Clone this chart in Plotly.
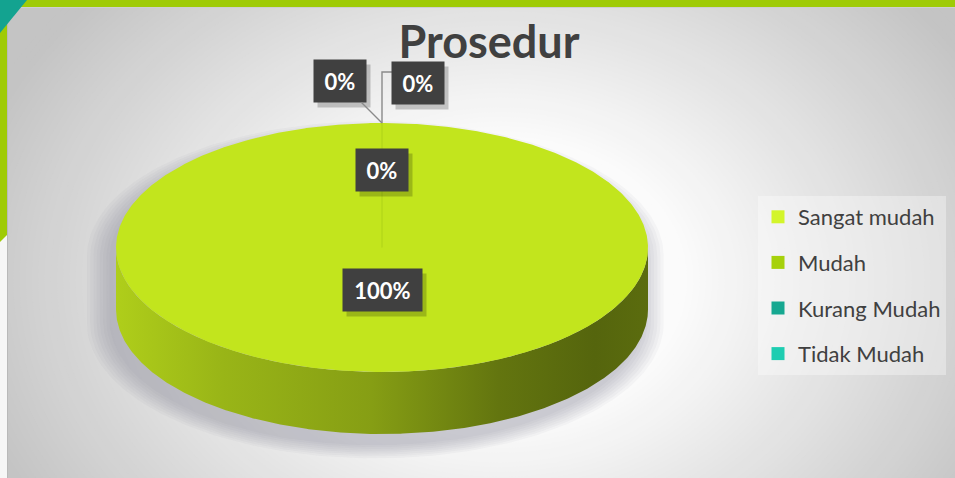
import numpy as np
import plotly.graph_objects as go

# ---------------- data ----------------
categories = ["Sangat mudah", "Mudah", "Kurang Mudah", "Tidak Mudah"]
values = [100, 0, 0, 0]
legend_colors = ["#d3f52a", "#a6d10b", "#16a891", "#1ecdb1"]
top_colors = ["#c2e51d", "#a3cf0f", "#149e88", "#1cc5aa"]
title_text = "Prosedur"

# ---------------- layout constants (pixels) ----------------
W, H = 955, 478
CX, CY, RX, RY = 382.0, 247.5, 266.0, 124.5   # pie top-face ellipse in px
DEPTH = 62.0 / RY                              # cylinder depth in data units
FONT = "Lato"

def px_to_paper(px, py):
    return px / W, 1 - py / H

def lighten(hexc, f):
    h = hexc.lstrip("#")
    r, g, b = (int(h[i:i + 2], 16) for i in (0, 2, 4))
    return "#%02x%02x%02x" % tuple(max(0, min(255, int(round(c * f)))) for c in (r, g, b))

fig = go.Figure()

# ---------------- slice geometry from values ----------------
total = float(sum(values))
fracs = [v / total for v in values]
cum = np.concatenate([[0.0], np.cumsum(fracs)])
start_deg = 90.0
angles = [(start_deg - 360 * cum[i], start_deg - 360 * cum[i + 1]) for i in range(len(values))]

# ---------------- shadow beneath the cylinder ----------------
t_up = np.linspace(0, np.pi, 120)
t_dn = np.linspace(np.pi, 2 * np.pi, 120)
sil_x = np.concatenate([np.cos(t_up), np.cos(t_dn)])
sil_y = np.concatenate([np.sin(t_up), np.sin(t_dn) - DEPTH])
for k in range(8):
    s = 1.0 + 0.012 * k
    fig.add_trace(go.Scatter(
        x=sil_x * s - 0.025, y=(sil_y + DEPTH / 2) * s - DEPTH / 2 - 0.09,
        mode="lines", fill="toself", line=dict(width=0),
        fillcolor="rgba(110,115,145,0.05)", hoverinfo="skip", showlegend=False))

# ---------------- front wall of each slice ----------------
wall_factors = [(0.0, 0.90), (0.2, 0.79), (0.48, 0.69), (0.72, 0.51), (0.9, 0.44), (1.0, 0.47)]
for i, (a0, a1) in enumerate(angles):
    if fracs[i] <= 0:
        continue
    th = np.radians(np.linspace(a0, a1, 721))
    front = np.sin(th) <= 1e-9
    runs, cur = [], []
    for t, f in zip(th, front):
        if f:
            cur.append(t)
        elif cur:
            runs.append(cur); cur = []
    if cur:
        runs.append(cur)
    for run in runs:
        run = np.array(run)
        if len(run) < 2:
            continue
        xs = np.concatenate([np.cos(run), np.cos(run[::-1])])
        ys = np.concatenate([np.sin(run), np.sin(run[::-1]) - DEPTH])
        fig.add_trace(go.Scatter(
            x=xs, y=ys, mode="lines", fill="toself", line=dict(width=0),
            fillgradient=dict(type="horizontal",
                              colorscale=[[p, lighten(top_colors[i], f)] for p, f in wall_factors]),
            hoverinfo="skip", showlegend=False))

# ---------------- top face slices ----------------
for i, (a0, a1) in enumerate(angles):
    th = np.radians(np.linspace(a0, a1, max(2, int(abs(a0 - a1) * 2) + 2)))
    xs = np.concatenate([[0], np.cos(th), [0]])
    ys = np.concatenate([[0], np.sin(th), [0]])
    fig.add_trace(go.Scatter(
        x=xs, y=ys, mode="lines", fill="toself", line=dict(width=0),
        fillcolor=top_colors[i], name=categories[i], hoverinfo="skip", showlegend=False))

# slice boundary lines
for b in sorted(set(np.round([a for pair in angles for a in pair], 6) % 360)):
    r = np.radians(b)
    fig.add_trace(go.Scatter(x=[0, np.cos(r)], y=[0, np.sin(r)], mode="lines",
                             line=dict(color="rgba(150,185,20,0.35)", width=1.2),
                             hoverinfo="skip", showlegend=False))

# ---------------- legend entries ----------------
for cat, col in zip(categories, legend_colors):
    fig.add_trace(go.Scatter(x=[None], y=[None], mode="markers", name=cat, legendgroup=cat,
                             marker=dict(symbol="square", size=13, color=col,
                                         line=dict(width=0))))

# ---------------- data labels ----------------
annotations = []
label_font = dict(family=FONT, size=22, color="white", weight="bold")
BOX_BG = "#404040"
SHADOW_BG = "rgba(0,0,0,0.2)"

def pct_text(f):
    return "%d%%" % round(f * 100)

def add_box(text, x, y, w, xshift=0, yshift=0, arrow=None):
    # soft drop shadow box (no text)
    annotations.append(dict(x=x, y=y, xref="x", yref="y", text=" ", showarrow=False,
                            font=dict(family=FONT, size=22), bgcolor=SHADOW_BG, width=w, height=40,
                            xshift=xshift + 4 + (arrow[0] if arrow else 0),
                            yshift=yshift - 5 - (arrow[1] if arrow else 0)))
    a = dict(x=x, y=y, xref="x", yref="y", text=text, font=label_font, bgcolor=BOX_BG,
             width=w, height=40, xshift=xshift, yshift=yshift)
    if arrow:
        a.update(showarrow=True, ax=arrow[0], ay=arrow[1], arrowhead=0,
                 arrowwidth=1.4, arrowcolor="#8a8a8a", standoff=0)
    else:
        a.update(showarrow=False)
    annotations.append(a)

# placement rules (Excel "best fit"): inside radius or outside with leader
placement = {0: ("inside", 0.34), 1: ("inside", 0.62), 2: ("arrow", (-42, -42)), 3: ("elbow", (36, -40))}
for i, (a0, a1) in enumerate(angles):
    mid = np.radians((a0 + a1) / 2)
    txt = pct_text(fracs[i])
    w = 50 if len(txt) == 2 else 77
    kind, par = placement[i]
    if kind == "inside":
        add_box(txt, par * np.cos(mid), par * np.sin(mid), w)
    elif kind == "arrow":
        add_box(txt, np.cos(mid), np.sin(mid), w, arrow=par)
    else:
        rx, ry = np.cos(mid), np.sin(mid)
        dx, dy = par
        elbow_y = ry + (-(dy) + 20 - 9) / RY
        box_left = rx + (dx - w / 2) / RX
        fig.add_trace(go.Scatter(x=[rx, rx, box_left], y=[ry, elbow_y, elbow_y], mode="lines",
                                 line=dict(color="#8a8a8a", width=1.4),
                                 hoverinfo="skip", showlegend=False))
        add_box(txt, rx, ry, w, xshift=dx, yshift=-dy)

# ---------------- background shapes ----------------
shapes = []
shapes.append(dict(type="rect", xref="paper", yref="paper", x0=0, x1=1, y0=0, y1=1,
                   fillcolor="#c4c4c4", line=dict(width=0), layer="below"))
GX, GY, GRX, GRY = 500.0, 280.0, 520.0, 400.0
for r in np.arange(1.08, 0.33, -0.012):
    t = min(1.0, max(0.0, (r - 0.36) / 0.7))
    g = 251 - (251 - 196) * t
    x0, y0 = px_to_paper(GX - r * GRX, GY - r * GRY)
    x1, y1 = px_to_paper(GX + r * GRX, GY + r * GRY)
    shapes.append(dict(type="circle", xref="paper", yref="paper", x0=x0, x1=x1, y0=y1, y1=y0,
                       fillcolor="rgb(%.1f,%.1f,%.1f)" % (g, g, g), line=dict(width=0), layer="below"))

def rect_px(x0, y0, x1, y1, color):
    a, b = px_to_paper(x0, y0)
    c, d = px_to_paper(x1, y1)
    return dict(type="rect", xref="paper", yref="paper", x0=a, x1=c, y0=d, y1=b,
                fillcolor=color, line=dict(width=0), layer="below")

def path_px(pts, color):
    p = " ".join(("M" if k == 0 else "L") + " %f,%f" % px_to_paper(x, y) for k, (x, y) in enumerate(pts)) + " Z"
    return dict(type="path", xref="paper", yref="paper", path=p,
                fillcolor=color, line=dict(width=0), layer="below")

shapes.append(rect_px(0, 0, 7, H, "#f6f6f6"))
shapes.append(rect_px(7, 7, 8, H, "#b9b9b9"))
shapes.append(rect_px(7, 7, W, 8, "#cfcfcf"))
shapes.append(rect_px(0, 0, W, 7, "#9fcb06"))
shapes.append(path_px([(0, 0), (7, 0), (7, 235), (0, 242)], "#9fcb06"))
shapes.append(path_px([(0, 0), (27, 0), (0, 33)], "#13a390"))

# ---------------- layout ----------------
fig.update_layout(
    width=W, height=H, autosize=False,
    margin=dict(l=0, r=0, t=0, b=0),
    paper_bgcolor="#d0d0d0", plot_bgcolor="rgba(0,0,0,0)",
    xaxis=dict(range=[-CX / RX, (W - CX) / RX], visible=False, fixedrange=True),
    yaxis=dict(range=[(CY - H) / RY, CY / RY], visible=False, fixedrange=True),
    title=dict(text=title_text, x=489 / W, xanchor="center", y=1 - 42 / H, yanchor="middle",
               yref="container", font=dict(family=FONT, size=45, color="#404040", weight="bold")),
    legend=dict(x=758 / W, y=1 - 196 / H, xanchor="left", yanchor="top",
                bgcolor="rgba(255,255,255,0.35)", borderwidth=0,
                font=dict(family=FONT, size=22, color="#404040"),
                traceorder="grouped", tracegroupgap=14, itemclick=False, itemdoubleclick=False),
    shapes=shapes, annotations=annotations, showlegend=True,
)

fig.write_html("out.html", config={"displayModeBar": False},
               post_script="document.body.style.margin='0';")
